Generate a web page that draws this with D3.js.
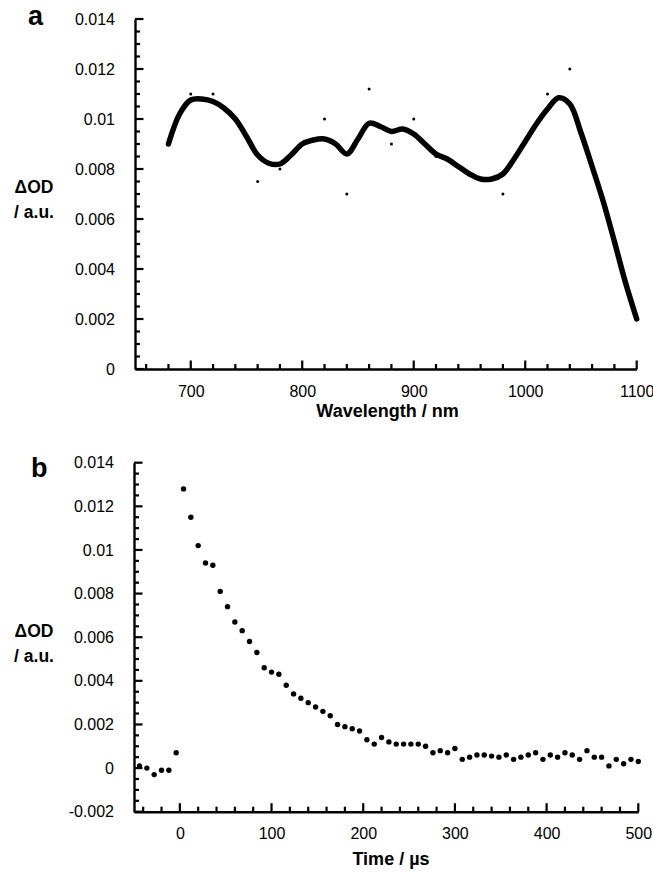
<!DOCTYPE html>
<html>
<head>
<meta charset="utf-8">
<script src="https://cdn.jsdelivr.net/npm/d3@7"></script>
<style>
  html, body { margin: 0; padding: 0; background: #fff; }
  svg { display: block; }
  text { font-family: "Liberation Sans", Arial, Helvetica, sans-serif; fill: #000; }
</style>
</head>
<body>
<script>
// ---- Panel a data ----
const curveWavelength = [680,690,700,710,720,730,740,750,760,770,780,790,800,810,820,830,840,850,860,870,880,890,900,910,920,930,940,950,960,970,980,990,1000,1010,1020,1030,1040,1050,1060,1070,1080,1090,1100];
const curveOD = [0.0090,0.0102,0.01076,0.0108,0.0107,0.01043,0.0100,0.0093,0.00856,0.00823,0.0082,0.00856,0.0090,0.00916,0.0092,0.0090,0.0086,0.0092,0.00983,0.0097,0.0095,0.0096,0.0094,0.0090,0.0086,0.0084,0.0081,0.0078,0.0076,0.0076,0.0078,0.0084,0.0091,0.0098,0.0104,0.01085,0.0106,0.00945,0.0081,0.0067,0.0051,0.00345,0.0020];
const pointWavelength = [700,720,740,760,780,800,820,840,860,880,900,920,980,1020,1040];
const pointOD = [0.0110,0.0110,0.0100,0.0075,0.0080,0.0090,0.0100,0.0070,0.0112,0.0090,0.0100,0.0085,0.0070,0.0110,0.0120];
const aXTicks = [700,800,900,1000,1100];
const aYTicks = [0,0.002,0.004,0.006,0.008,0.01,0.012,0.014];
const aYTickLabels = ["0","0.002","0.004","0.006","0.008","0.01","0.012","0.014"];

// ---- Panel b data ----
const time = [-44,-36,-28,-20,-12,-4,4,12,20,28,36,44,52,60,68,76,84,92,100,108,116,124,132,140,148,156,164,172,180,188,196,204,212,220,228,236,244,252,260,268,276,284,292,300,308,316,324,332,340,348,356,364,372,380,388,396,404,412,420,428,436,444,452,460,468,476,484,492,500];
const decayOD = [0.0001,0.0000,-0.0003,-0.0001,-0.0001,0.0007,
 0.0128,0.0115,0.0102,0.0094,0.0093,0.0081,0.0074,0.0067,0.0063,0.0058,0.0053,0.0046,0.0044,0.0043,0.0038,0.0034,0.0032,0.0030,0.0028,0.0026,0.0024,
 0.0020,0.0019,0.0018,0.0017,0.0013,0.0011,0.0014,0.0012,0.0011,0.0011,0.0011,0.0011,0.0010,0.0007,0.0008,0.0007,0.0009,
 0.0004,0.0005,0.0006,0.0006,0.00055,0.0005,0.0006,0.0004,0.0005,0.0006,0.0007,0.0004,0.0006,0.0005,0.0007,0.0006,0.0004,0.0008,0.0005,0.0005,0.0001,0.0004,0.0002,0.0004,0.0003];
const bXTicks = [0,100,200,300,400,500];
const bYTicks = [-0.002,0,0.002,0.004,0.006,0.008,0.01,0.012,0.014];
const bYTickLabels = ["-0.002","0","0.002","0.004","0.006","0.008","0.01","0.012","0.014"];

const W = 653, H = 873;
const svg = d3.select("body").append("svg").attr("width", W).attr("height", H);

function minorRange(lo, hi, step) {
  const out = [];
  for (let i = Math.ceil(lo / step - 1e-9); i * step <= hi + 1e-9; i++) out.push(+(i * step).toFixed(6));
  return out;
}

function drawAxes(g, x, y, xTicks, yTicks, yLabels, xMinorStep, yMinorStep, xPad) {
  const [x0, x1] = x.domain(), [y0, y1] = y.domain();
  const left = x.range()[0], bottom = y.range()[0];
  const isMajor = (v, list) => list.some(t => Math.abs(t - v) < 1e-9);
  const TW = 2.2; // tick width
  const tickG = g.append("g").attr("fill", "#000");
  // minor x ticks (rects)
  tickG.append("g").selectAll("rect")
    .data(minorRange(x0, x1, xMinorStep).filter(v => v > x0 + 1e-9 && !isMajor(v, xTicks)))
    .join("rect")
    .attr("x", d => x(d) - TW / 2).attr("width", TW)
    .attr("y", bottom - 5).attr("height", 5);
  // minor y ticks
  tickG.append("g").selectAll("rect")
    .data(minorRange(y0, y1, yMinorStep).filter(v => !isMajor(v, yTicks)))
    .join("rect")
    .attr("x", left).attr("width", 5)
    .attr("y", d => y(d) - TW / 2).attr("height", TW);
  // major x ticks
  tickG.append("g").selectAll("rect").data(xTicks).join("rect")
    .attr("x", d => x(d) - TW / 2).attr("width", TW)
    .attr("y", bottom - 8.5).attr("height", 8.5);
  // major y ticks
  tickG.append("g").selectAll("rect").data(yTicks).join("rect")
    .attr("x", left).attr("width", 8.5)
    .attr("y", d => y(d) - TW / 2).attr("height", TW);
  // axis lines + labels via d3 axes
  const gx = g.append("g").attr("transform", `translate(0,${bottom})`)
    .call(d3.axisBottom(x).tickValues(xTicks).tickSize(0).tickPadding(xPad).tickFormat(d3.format("d")));
  gx.select(".domain").attr("stroke", "#000").attr("stroke-width", 2.4);
  gx.selectAll("text").attr("font-size", 16).attr("font-family", null).attr("fill", "#000");
  const gy = g.append("g").attr("transform", `translate(${left},0)`)
    .call(d3.axisLeft(y).tickValues(yTicks).tickSize(0).tickPadding(20)
      .tickFormat((d, i) => yLabels[i]));
  gy.select(".domain").attr("stroke", "#000").attr("stroke-width", 2.4);
  gy.selectAll("text").attr("font-size", 16).attr("font-family", null).attr("fill", "#000");
}

// ---- Panel a ----
const xa = d3.scaleLinear().domain([650, 1100]).range([135, 636.7]);
const ya = d3.scaleLinear().domain([0, 0.014]).range([369, 19]);
const ga = svg.append("g");
drawAxes(ga, xa, ya, aXTicks, aYTicks, aYTickLabels, 20, 0.0005, 17);

ga.append("g").selectAll("circle").data(pointWavelength).join("circle")
  .attr("cx", d => xa(d)).attr("cy", (d, i) => ya(pointOD[i])).attr("r", 1.5).attr("fill", "#000");

const lineA = d3.line().x(d => xa(d)).y((d, i) => ya(curveOD[i])).curve(d3.curveCatmullRom.alpha(0.5));
ga.append("path").attr("d", lineA(curveWavelength)).attr("fill", "none")
  .attr("stroke", "#000").attr("stroke-width", 5.5).attr("stroke-linecap", "round").attr("stroke-linejoin", "round");

ga.append("text").attr("x", 28).attr("y", 25).attr("font-size", 27).attr("font-weight", "bold").text("a");
ga.append("text").attr("x", 34).attr("y", 193).attr("text-anchor", "middle").attr("font-size", 17.5).attr("font-weight", "bold").text("ΔOD");
ga.append("text").attr("x", 34).attr("y", 218).attr("text-anchor", "middle").attr("font-size", 17.5).attr("font-weight", "bold").text("/ a.u.");
ga.append("text").attr("x", 387.5).attr("y", 417).attr("text-anchor", "middle").attr("font-size", 18).attr("font-weight", "bold").text("Wavelength / nm");

// ---- Panel b ----
const xb = d3.scaleLinear().domain([-50, 500]).range([134, 638.3]);
const yb = d3.scaleLinear().domain([-0.002, 0.014]).range([811.7, 462.7]);
const gb = svg.append("g");
drawAxes(gb, xb, yb, bXTicks, bYTicks, bYTickLabels, 20, 0.0005, 15.5);

gb.append("g").selectAll("circle").data(time).join("circle")
  .attr("cx", d => xb(d)).attr("cy", (d, i) => yb(decayOD[i])).attr("r", 2.7).attr("fill", "#000");

gb.append("text").attr("x", 31).attr("y", 477).attr("font-size", 27).attr("font-weight", "bold").text("b");
gb.append("text").attr("x", 34).attr("y", 637).attr("text-anchor", "middle").attr("font-size", 17.5).attr("font-weight", "bold").text("ΔOD");
gb.append("text").attr("x", 34).attr("y", 662).attr("text-anchor", "middle").attr("font-size", 17.5).attr("font-weight", "bold").text("/ a.u.");
gb.append("text").attr("x", 391).attr("y", 865).attr("text-anchor", "middle").attr("font-size", 18).attr("font-weight", "bold").text("Time / µs");
</script>
</body>
</html>
